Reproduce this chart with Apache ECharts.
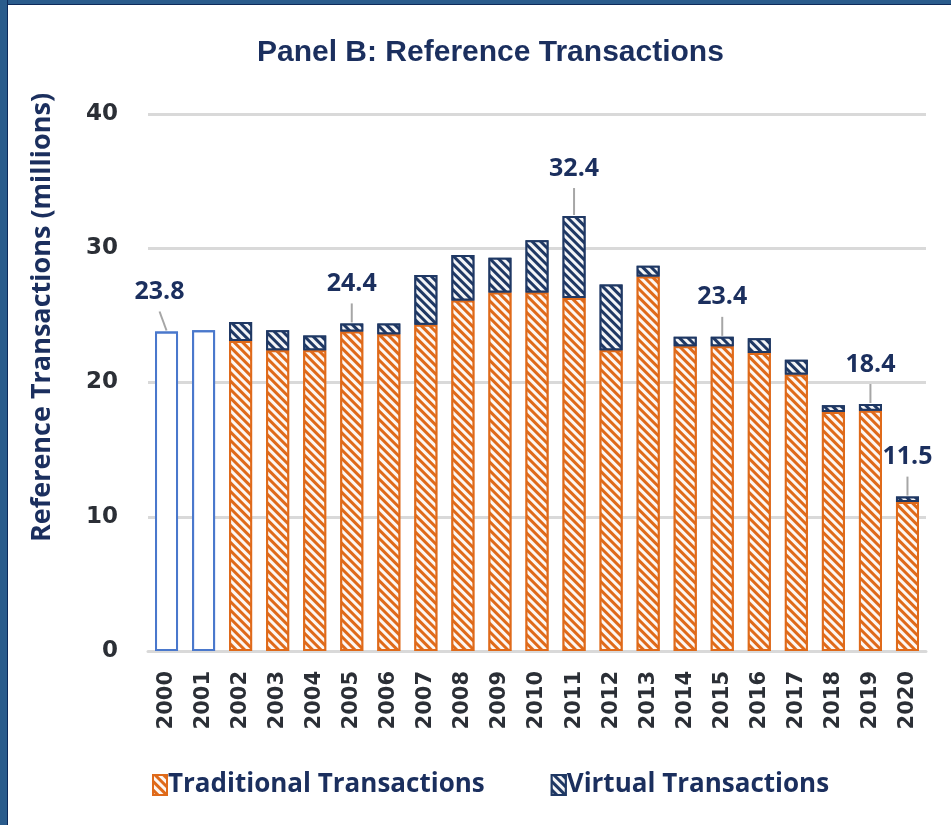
<!DOCTYPE html>
<html>
<head>
<meta charset="utf-8">
<script src="https://cdn.jsdelivr.net/npm/echarts@6/dist/echarts.min.js"></script>
<style>
  html, body { margin: 0; padding: 0; background: #fff; }
  #chart { width: 951px; height: 825px; }
  .band-top { position: absolute; left: 0; top: 0; width: 951px; height: 4px; background: #2a5c8c; border-bottom: 1px solid #0d2a5a; }
  .band-left { position: absolute; left: 0; top: 0; width: 7px; height: 825px; background: #2a5c8c; border-right: 1px solid #0d2a5a; }
</style>
</head>
<body>
<div id="chart"></div>
<div class="band-top"></div>
<div class="band-left"></div>
<script>
// reference transactions, millions
const years = ['2000','2001','2002','2003','2004','2005','2006','2007','2008','2009','2010',
  '2011','2012','2013','2014','2015','2016','2017','2018','2019','2020']
const traditional = [23.8, 23.9, 23.1, 22.4, 22.4, 23.8, 23.6, 24.3, 26.1, 26.7, 26.7,
  26.3, 22.4, 27.9, 22.7, 22.7, 22.2, 20.6, 17.8, 17.9, 11.1]
const virtual = ['-', '-', 1.4, 1.5, 1.1, 0.6, 0.8, 3.7, 3.4, 2.6, 3.9,
  6.1, 4.9, 0.8, 0.7, 0.7, 1.1, 1.1, 0.5, 0.5, 0.4]
// no virtual split reported for these years
const totalOnlyYears = ['2000', '2001']

const labelYears = ['2000', '2005', '2011', '2015', '2019', '2020']
const labelValues = [23.8, 24.4, 32.4, 23.4, 18.4, 11.5]

const navy = '#1b2f5e'
const orange = '#df6a1a'
const barNavy = '#1f3864'
const stripes = {
  symbol: 'rect',
  dashArrayX: [1, 0],
  dashArrayY: [2.4, 2.4],
  rotation: Math.PI / 4,
  color: 'rgba(255,255,255,0.95)'
}
const noStripes = {
  symbol: 'rect',
  dashArrayX: [1, 0],
  dashArrayY: [2, 2],
  color: 'rgba(255,255,255,0)'
}

const chart = echarts.init(document.getElementById('chart'))

chart.setOption({
  animation: false,
  textStyle: { fontFamily: 'Open Sans' },
  title: {
    text: 'Panel B: Reference Transactions',
    left: 252,
    top: 33,
    textStyle: { fontFamily: 'Liberation Sans', fontSize: 30, fontWeight: 'bold', color: navy }
  },
  grid: { left: 148, right: 25, top: 114, bottom: 174 },
  legend: {
    data: ['Traditional Transactions', 'Virtual Transactions'],
    left: 147,
    top: 767,
    itemWidth: 14,
    itemHeight: 20,
    itemGap: 66,
    icon: 'rect',
    textStyle: { fontFamily: 'Open Sans', fontSize: 26, fontWeight: 'bold', color: navy, padding: [0, 0, 0, -4] }
  },
  xAxis: {
    type: 'category',
    data: years,
    axisTick: { show: false },
    axisLine: { lineStyle: { color: '#d9d9d9', width: 3 } },
    axisLabel: {
      rotate: 90,
      margin: 20,
      fontFamily: 'DejaVu Sans',
      fontWeight: 'bold',
      fontSize: 21,
      color: '#2b2f36'
    }
  },
  yAxis: {
    type: 'value',
    min: 0,
    max: 40,
    interval: 10,
    name: 'Reference Transactions (millions)',
    nameLocation: 'middle',
    nameRotate: 90,
    nameGap: 92,
    nameTextStyle: { fontFamily: 'Open Sans', fontSize: 27, fontWeight: 'bold', color: navy, padding: [0, 0, 0, 130] },
    axisLabel: {
      margin: 30,
      fontFamily: 'DejaVu Sans',
      fontWeight: 'bold',
      fontSize: 23,
      color: '#2b2f36'
    },
    splitLine: { lineStyle: { color: '#d9d9d9', width: 3 } }
  },
  series: [
    {
      name: 'Traditional Transactions',
      type: 'bar',
      stack: 'ref',
      barWidth: 23,
      data: traditional.map((v, i) => {
        if (totalOnlyYears.includes(years[i])) {
          return { value: v, itemStyle: { color: '#fff', borderColor: '#4a78cc', borderWidth: 2, decal: noStripes } }
        }
        return v
      }),
      itemStyle: { color: orange, borderColor: orange, borderWidth: 2, decal: stripes }
    },
    {
      name: 'Virtual Transactions',
      type: 'bar',
      stack: 'ref',
      barWidth: 23,
      data: virtual,
      itemStyle: { color: barNavy, borderColor: barNavy, borderWidth: 2, decal: stripes }
    },
    {
      // callout labels with leader lines
      type: 'custom',
      z: 10,
      silent: true,
      data: labelYears.map((y, i) => [y, labelValues[i]]),
      encode: { x: 0, y: 1 },
      renderItem: function (params, api) {
        const p = api.coord([api.value(0), api.value(1)])
        const year = labelYears[params.dataIndex]
        const dx = year === '2000' ? -7 : 0
        const len = year === '2011' ? 26 : 18
        const top = p[1] - 2 - len
        return {
          type: 'group',
          children: [
            {
              type: 'line',
              shape: { x1: p[0], y1: p[1] - 1, x2: p[0] + dx, y2: top },
              style: { stroke: '#a6a6a6', lineWidth: 2 }
            },
            {
              type: 'text',
              style: {
                text: labelValues[params.dataIndex].toFixed(1),
                x: p[0] + dx,
                y: top - 7,
                align: 'center',
                verticalAlign: 'bottom',
                fontFamily: 'Open Sans',
                fontWeight: 'bold',
                fontSize: 25,
                fill: navy
              }
            }
          ]
        }
      }
    }
  ]
})
</script>
</body>
</html>
